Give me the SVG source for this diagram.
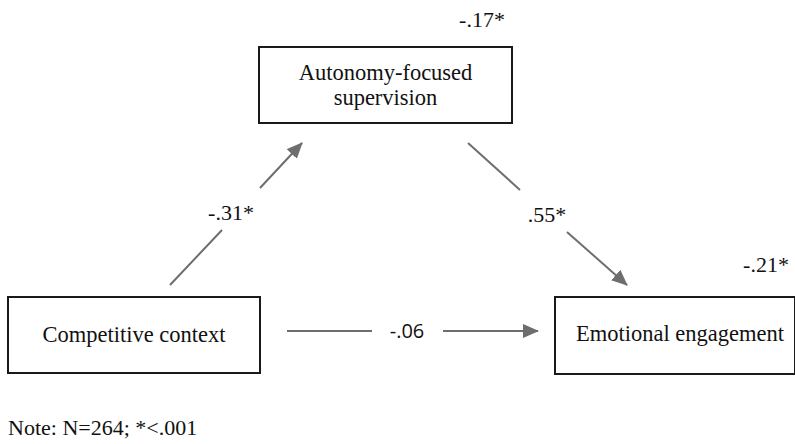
<svg xmlns="http://www.w3.org/2000/svg" width="795" height="444" viewBox="0 0 795 444">
  <style>
    .box { fill: #ffffff; stroke: #1a1a1a; stroke-width: 2; }
    .label { font-family: "Liberation Serif", "Times New Roman", serif; font-size: 22.5px; fill: #111111; }
    .coef { font-family: "Liberation Serif", "Times New Roman", serif; font-size: 22px; fill: #111111; }
    .coef-sans { font-family: "Open Sans", "Liberation Sans", sans-serif; font-size: 20px; fill: #111111; }
    .path { stroke: #6e6e6e; stroke-width: 2; fill: none; }
  </style>
  <defs>
    <marker id="arrow" markerWidth="10" markerHeight="10" refX="9" refY="5" orient="auto" markerUnits="userSpaceOnUse" viewBox="0 0 10 10">
      <path d="M0,0 L10,5 L0,10 Z" fill="#6e6e6e"/>
    </marker>
    <marker id="arrowLg" markerWidth="16" markerHeight="14" refX="15" refY="7" orient="auto" markerUnits="userSpaceOnUse" viewBox="0 0 16 14">
      <path d="M0,0 L16,7 L0,14 Z" fill="#6e6e6e"/>
    </marker>
  </defs>

  <rect width="795" height="444" fill="#ffffff"/>

  <!-- connectors -->
  <g id="connectors">
    <!-- Competitive context -> Autonomy-focused supervision -->
    <line class="path" x1="170" y1="285" x2="222" y2="230"/>
    <line class="path" x1="260" y1="188" x2="302" y2="143" marker-end="url(#arrowLg)"/>
    <text class="coef" x="231" y="220" text-anchor="middle">-.31*</text>

    <!-- Autonomy-focused supervision -> Emotional engagement -->
    <line class="path" x1="468" y1="143" x2="520" y2="190"/>
    <line class="path" x1="567" y1="232" x2="627" y2="285" marker-end="url(#arrowLg)"/>
    <text class="coef" x="547" y="222" text-anchor="middle">.55*</text>

    <!-- Competitive context -> Emotional engagement -->
    <line class="path" x1="287" y1="331" x2="372" y2="331"/>
    <line class="path" x1="443" y1="331" x2="538" y2="331" marker-end="url(#arrowLg)"/>
    <text class="coef-sans" x="407" y="338" text-anchor="middle">-.06</text>
  </g>

  <!-- nodes -->
  <g id="autonomy">
    <rect class="box" x="259" y="47" width="253" height="76"/>
    <text class="label" x="385.5" y="80" text-anchor="middle">Autonomy-focused</text>
    <text class="label" x="385.5" y="105" text-anchor="middle">supervision</text>
    <text class="coef" x="482" y="27" text-anchor="middle">-.17*</text>
  </g>

  <g id="competitive">
    <rect class="box" x="8" y="297" width="252" height="76"/>
    <text class="label" x="134" y="342" text-anchor="middle">Competitive context</text>
  </g>

  <g id="emotional">
    <rect class="box" x="555" y="297" width="240" height="77"/>
    <text class="label" x="680" y="341" text-anchor="middle">Emotional engagement</text>
    <text class="coef" x="766" y="272" text-anchor="middle">-.21*</text>
  </g>

  <text class="coef" x="8" y="435">Note: N=264; *&lt;.001</text>
</svg>
